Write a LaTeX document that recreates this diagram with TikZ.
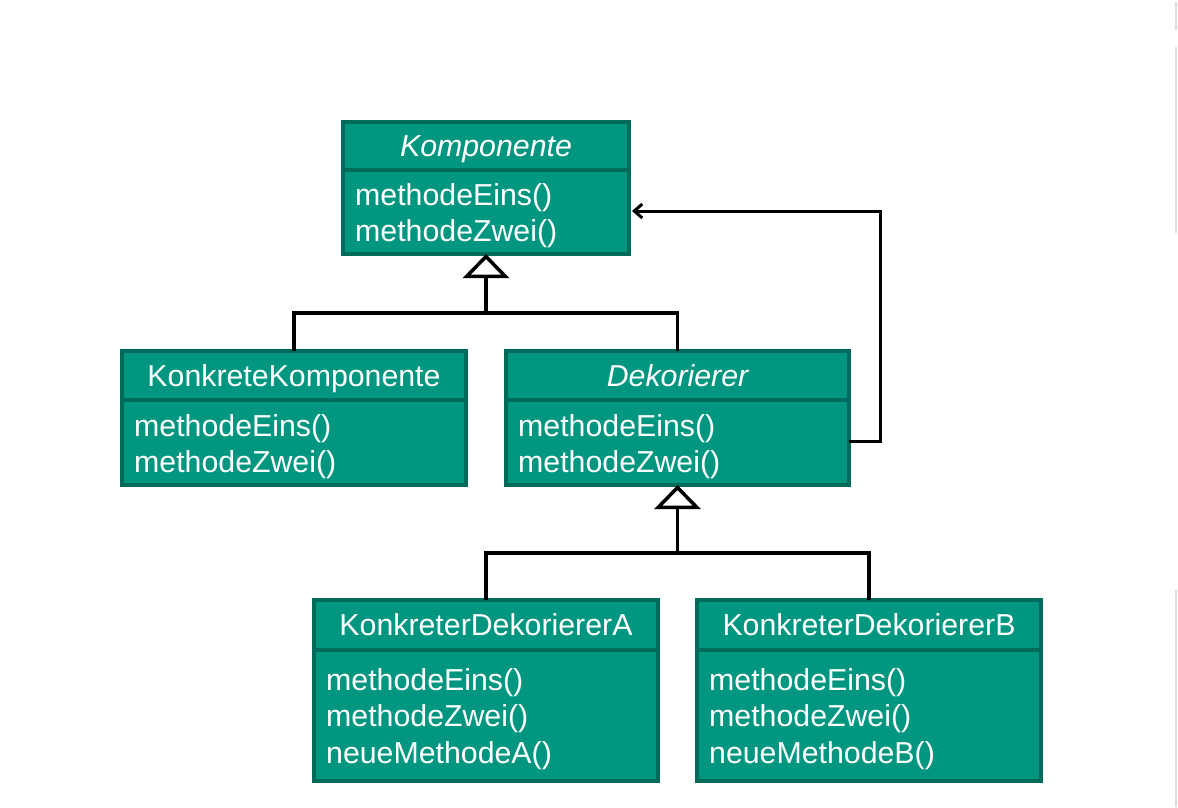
\documentclass[tikz,border=0pt]{standalone}
\usepackage{fontspec}
\setmainfont{Liberation Sans}
\usetikzlibrary{arrows.meta,calc}

\definecolor{classfill}{RGB}{0,150,128}
\definecolor{classline}{RGB}{0,107,91}
\definecolor{edgegray}{RGB}{220,220,220}

\begin{document}
\begin{tikzpicture}[x=1pt,y=-1pt,
  classbox/.style={draw=classline, fill=classfill, line width=4pt, rectangle,
    inner sep=0pt, outer sep=0pt, anchor=north west},
  divider/.style={draw=classline, line width=4pt},
  classname/.style={text=white, font=\fontsize{30.3}{36}\selectfont, inner sep=0pt, anchor=base},
  member/.style={text=white, font=\fontsize{30.3}{36}\selectfont, inner sep=0pt, anchor=base west},
  conn/.style={draw=black, line width=3.5pt},
  inherit/.style={conn, -{Triangle[open, length=24pt, width=46pt, line width=3.5pt, fill=white]}},
  assoc/.style={draw=black, line width=3pt, line join=miter,
    -{Straight Barb[length=8pt, width=14pt, line width=3pt]}}
]
\useasboundingbox[fill=white] (0,0) rectangle (1178,807);

% faint window edge on the right
\draw[edgegray, line width=2pt] (1176,2) -- (1176,30);
\draw[edgegray, line width=2pt] (1176,47) -- (1176,233);
\draw[edgegray, line width=2pt] (1176,590) -- (1176,807);

% ---------- Komponente ----------
\node[classbox, minimum width=286pt, minimum height=132pt] (komp) at (343,122) {};
\draw[divider] (komp.west |- 0,170) -- (komp.east |- 0,170);
\node[classname] (kompname) at (486,156) {\itshape Komponente};
\node[member] (komp1) at (355,205) {methodeEins()};
\node[member] (komp2) at (355,241) {methodeZwei()};

% ---------- KonkreteKomponente ----------
\node[classbox, minimum width=344pt, minimum height=134pt] (kk) at (122,351) {};
\draw[divider] (kk.west |- 0,400) -- (kk.east |- 0,400);
\node[classname] (kkname) at (294,386) {KonkreteKomponente};
\node[member] (kk1) at (134,436) {methodeEins()};
\node[member] (kk2) at (134,472) {methodeZwei()};

% ---------- Dekorierer ----------
\node[classbox, minimum width=343pt, minimum height=134pt] (dek) at (506,351) {};
\draw[divider] (dek.west |- 0,400) -- (dek.east |- 0,400);
\node[classname] (dekname) at (677.5,386) {\itshape Dekorierer};
\node[member] (dek1) at (518,436) {methodeEins()};
\node[member] (dek2) at (518,472) {methodeZwei()};

% ---------- KonkreterDekoriererA ----------
\node[classbox, minimum width=344pt, minimum height=181pt] (kda) at (314,600) {};
\draw[divider] (kda.west |- 0,650) -- (kda.east |- 0,650);
\node[classname] (kdaname) at (486,635) {KonkreterDekoriererA};
\node[member] (kda1) at (326,690) {methodeEins()};
\node[member] (kda2) at (326,726) {methodeZwei()};
\node[member] (kda3) at (326,763) {neueMethodeA()};

% ---------- KonkreterDekoriererB ----------
\node[classbox, minimum width=344pt, minimum height=181pt] (kdb) at (697,600) {};
\draw[divider] (kdb.west |- 0,650) -- (kdb.east |- 0,650);
\node[classname] (kdbname) at (869,635) {KonkreterDekoriererB};
\node[member] (kdb1) at (709,690) {methodeEins()};
\node[member] (kdb2) at (709,726) {methodeZwei()};
\node[member] (kdb3) at (709,763) {neueMethodeB()};

% ---------- generalisation: Komponente ----------
\coordinate (j1) at (486,313);
\draw[conn] (kk.north) -- (kk.north |- j1) -- (dek.north |- j1) -- (dek.north);
\draw[inherit] (j1) -- (komp.south);

% ---------- generalisation: Dekorierer ----------
\coordinate (j2) at (677.5,553);
\draw[conn] (kda.north) -- (kda.north |- j2) -- (kdb.north |- j2) -- (kdb.north);
\draw[inherit] (j2) -- (dek.south);

% ---------- Dekorierer refers to Komponente ----------
\coordinate (bend1) at (880,441);
\coordinate (bend2) at (880,211);
\draw[assoc] (dek.east |- bend1) -- (bend1) -- (bend2) -- ($(komp.east |- bend2)+(3,0)$);
\end{tikzpicture}
\end{document}
